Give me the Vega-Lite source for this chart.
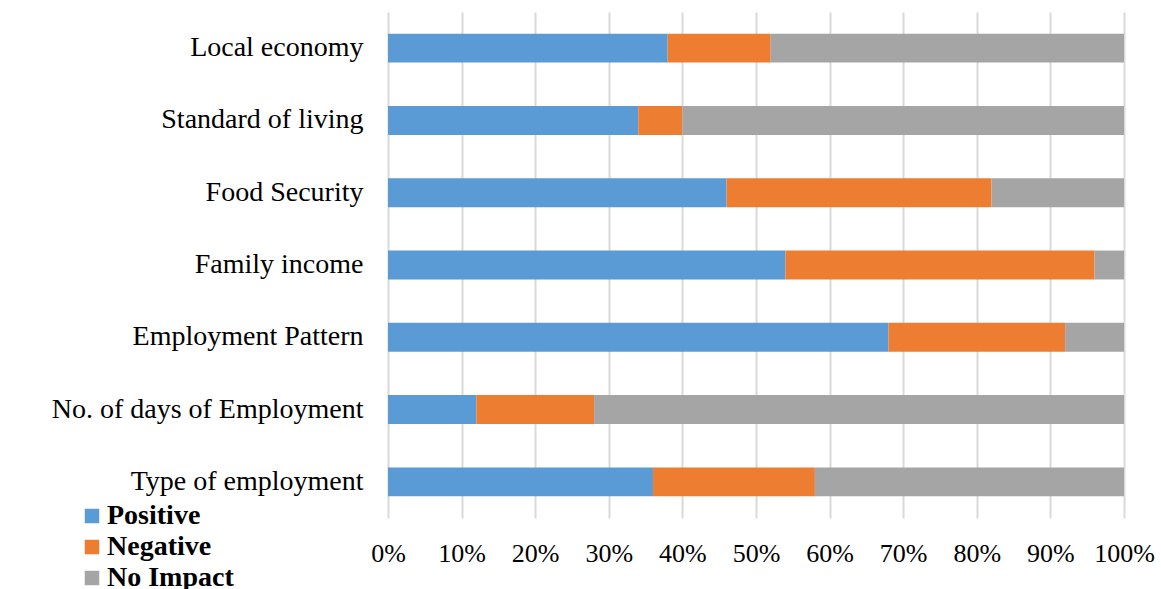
{
  "$schema": "https://vega.github.io/schema/vega-lite/v6.json",
  "width": 736,
  "height": 506,
  "autosize": {"type": "none"},
  "padding": {"left": 388, "top": 12, "right": 37, "bottom": 71},
  "background": "white",
  "data": {
    "values": [
      {"category": "Local economy", "impact": "Positive", "value": 38, "ord": 1},
      {"category": "Local economy", "impact": "Negative", "value": 14, "ord": 2},
      {"category": "Local economy", "impact": "No Impact", "value": 48, "ord": 3},
      {"category": "Standard of living", "impact": "Positive", "value": 34, "ord": 1},
      {"category": "Standard of living", "impact": "Negative", "value": 6, "ord": 2},
      {"category": "Standard of living", "impact": "No Impact", "value": 60, "ord": 3},
      {"category": "Food Security", "impact": "Positive", "value": 46, "ord": 1},
      {"category": "Food Security", "impact": "Negative", "value": 36, "ord": 2},
      {"category": "Food Security", "impact": "No Impact", "value": 18, "ord": 3},
      {"category": "Family income", "impact": "Positive", "value": 54, "ord": 1},
      {"category": "Family income", "impact": "Negative", "value": 42, "ord": 2},
      {"category": "Family income", "impact": "No Impact", "value": 4, "ord": 3},
      {"category": "Employment Pattern", "impact": "Positive", "value": 68, "ord": 1},
      {"category": "Employment Pattern", "impact": "Negative", "value": 24, "ord": 2},
      {"category": "Employment Pattern", "impact": "No Impact", "value": 8, "ord": 3},
      {"category": "No. of days of Employment", "impact": "Positive", "value": 12, "ord": 1},
      {"category": "No. of days of Employment", "impact": "Negative", "value": 16, "ord": 2},
      {"category": "No. of days of Employment", "impact": "No Impact", "value": 72, "ord": 3},
      {"category": "Type of employment", "impact": "Positive", "value": 36, "ord": 1},
      {"category": "Type of employment", "impact": "Negative", "value": 22, "ord": 2},
      {"category": "Type of employment", "impact": "No Impact", "value": 42, "ord": 3}
    ]
  },
  "mark": {"type": "bar"},
  "encoding": {
    "y": {
      "field": "category",
      "type": "nominal",
      "sort": ["Local economy", "Standard of living", "Food Security", "Family income", "Employment Pattern", "No. of days of Employment", "Type of employment"],
      "scale": {"paddingInner": 0.6, "paddingOuter": 0.3},
      "axis": {
        "title": null,
        "domain": false,
        "ticks": false,
        "labelPadding": 25,
        "labelFont": "Liberation Serif",
        "labelFontSize": 28,
        "labelColor": "#000000",
        "labelLimit": 400
      }
    },
    "x": {
      "field": "value",
      "type": "quantitative",
      "stack": "normalize",
      "scale": {"domain": [0, 1]},
      "axis": {
        "title": null,
        "format": ".0%",
        "values": [0, 0.1, 0.2, 0.3, 0.4, 0.5, 0.6, 0.7, 0.8, 0.9, 1],
        "domain": false,
        "ticks": false,
        "grid": true,
        "gridColor": "#d9d9d9",
        "gridWidth": 2,
        "labelPadding": 22,
        "labelFont": "Liberation Serif",
        "labelFontSize": 26,
        "labelColor": "#000000",
        "labelFlush": false
      }
    },
    "color": {
      "field": "impact",
      "type": "nominal",
      "sort": ["Positive", "Negative", "No Impact"],
      "scale": {"domain": ["Positive", "Negative", "No Impact"], "range": ["#5b9bd5", "#ed7d31", "#a5a5a5"]},
      "legend": {
        "title": null,
        "orient": "none",
        "legendX": -310,
        "legendY": 490,
        "padding": 0,
        "symbolType": "square",
        "symbolSize": 210,
        "symbolStrokeWidth": 0,
        "symbolOpacity": 1,
        "labelFont": "Liberation Serif",
        "labelFontSize": 28,
        "labelFontWeight": "bold",
        "labelColor": "#000000",
        "labelOffset": 1,
        "rowPadding": 3,
        "symbolOffset": 0
      }
    },
    "order": {"field": "ord", "type": "quantitative"}
  },
  "config": {
    "view": {"stroke": null}
  }
}
